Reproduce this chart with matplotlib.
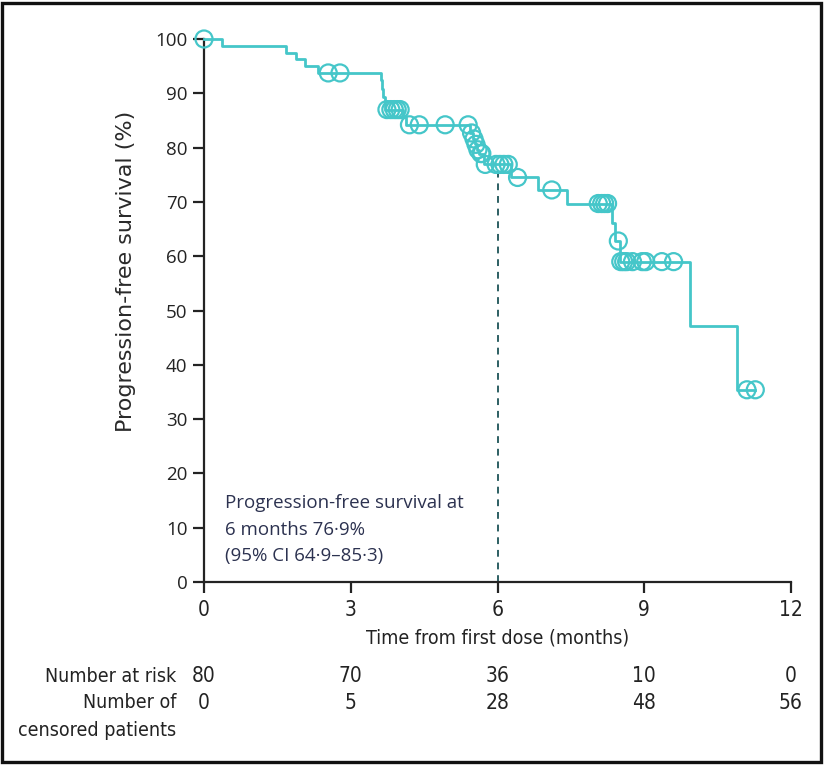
import matplotlib
matplotlib.use("Agg")
import matplotlib.pyplot as plt
import matplotlib.transforms as mtransforms
from matplotlib.patches import Rectangle

# Kaplan-Meier steps (time in months, PFS %)
step_t = [0, 0.37, 1.68, 1.88, 2.07, 2.34, 3.61, 3.63, 3.66, 3.69, 4.07, 4.12,
          5.44, 5.50, 5.54, 5.58, 5.62, 5.72, 6.27, 6.83, 7.42, 8.34, 8.40, 8.51,
          9.94, 10.90]
step_s = [100, 98.75, 97.5, 96.25, 95.0, 93.75, 92.4, 90.7, 89.3, 87.0, 85.6, 84.2,
          82.7, 81.6, 80.6, 79.6, 78.9, 76.9, 74.5, 72.2, 69.7, 66.2, 62.8, 59.0,
          47.1, 35.4]
end_t = 11.27

# censored observations
cens_t = [0, 2.54, 2.78, 3.74, 3.82, 3.89, 3.95, 4.01, 4.20, 4.40, 4.93, 5.40,
          5.47, 5.52, 5.56, 5.60, 5.66, 5.68, 5.75, 5.97, 6.05, 6.13, 6.22, 6.41,
          7.11, 8.06, 8.13, 8.19, 8.25, 8.47, 8.52, 8.58, 8.64, 8.76, 8.96, 9.03,
          9.36, 9.60, 11.10, 11.27]
cens_s = [100, 93.75, 93.75, 87.0, 87.0, 87.0, 87.0, 87.0, 84.2, 84.2, 84.2, 84.2,
          82.7, 81.6, 80.6, 79.6, 78.9, 78.9, 76.9, 76.9, 76.9, 76.9, 76.9, 74.5,
          72.2, 69.7, 69.7, 69.7, 69.7, 62.8, 59.0, 59.0, 59.0, 59.0, 59.0, 59.0,
          59.0, 59.0, 35.4, 35.4]

ticks_x = [0, 3, 6, 9, 12]
at_risk = [80, 70, 36, 10, 0]
censored = [0, 5, 28, 48, 56]

landmark_t = 6
landmark_s = 76.9
note = "Progression-free survival at\n6 months 76·9%\n(95% CI 64·9–85·3)"

teal = "#45c6c9"
ink = "#232323"
wide = ["Open Sans", "DejaVu Sans"]
narrow = dict(family="DejaVu Sans", stretch="condensed")

fig = plt.figure(figsize=(8.26, 7.66), dpi=100)
ax = fig.add_axes([204 / 826, 1 - 582 / 766, (791 - 204) / 826, (582 - 39) / 766])

xs = step_t + [end_t]
ys = step_s + [step_s[-1]]
ax.step(xs, ys, where="post", color=teal, lw=2.0, clip_on=False, zorder=3)
ax.scatter(cens_t, cens_s, s=150, facecolors="none", edgecolors=teal,
           linewidths=1.6, clip_on=False, zorder=4)

ax.plot([landmark_t, landmark_t], [0, landmark_s], color="#2d5f63",
        lw=1.4, ls=(0, (3.5, 3)), zorder=2)

ax.set_xlim(0, 12)
ax.set_ylim(0, 100)
ax.set_xticks(ticks_x)
ax.set_yticks(range(0, 101, 10))
for s in ["top", "right"]:
    ax.spines[s].set_visible(False)
for s in ["left", "bottom"]:
    ax.spines[s].set_linewidth(1.6)
    ax.spines[s].set_color(ink)
ax.tick_params(axis="both", direction="out", length=8, width=1.6, color=ink,
               labelcolor=ink)
ax.tick_params(axis="y", pad=4, labelsize=13.5)
ax.tick_params(axis="x", pad=5, labelsize=15)
for lab in ax.get_yticklabels():
    lab.set_family(wide)
for lab in ax.get_xticklabels():
    lab.set_family(narrow["family"])
    lab.set_stretch(narrow["stretch"])

ax.set_ylabel("Progression-free survival (%)", fontsize=16, family="DejaVu Sans",
              color="#2a2a2a")
ax.yaxis.set_label_coords((136 - 204) / 587, 1 - (271 - 39) / 543)
ax.set_xlabel("Time from first dose (months)", fontsize=14, color=ink,
              labelpad=6, **narrow)

ax.text(0.43, 16.2, note, fontsize=13.5, family=wide, color="#2c3250",
        va="top", ha="left", linespacing=1.62)

# number-at-risk table
tr = mtransforms.blended_transform_factory(ax.transData, fig.transFigure)
row1 = 1 - 676 / 766
row2 = 1 - 703 / 766
row3 = 1 - 730 / 766
lx = 176 / 826
fig.text(lx, row1, "Number at risk", ha="right", va="center", fontsize=14,
         color=ink, **narrow)
fig.text(lx, row2, "Number of", ha="right", va="center", fontsize=14,
         color=ink, **narrow)
fig.text(lx, row3, "censored patients", ha="right", va="center", fontsize=14,
         color=ink, **narrow)
for t, n, c in zip(ticks_x, at_risk, censored):
    ax.text(t, row1, str(n), transform=tr, ha="center", va="center",
            fontsize=15, color=ink, **narrow)
    ax.text(t, row2, str(c), transform=tr, ha="center", va="center",
            fontsize=15, color=ink, **narrow)

fig.patches.append(Rectangle((2 / 826, 4 / 766), 819 / 826, 759 / 766,
                             transform=fig.transFigure, fill=False,
                             edgecolor="#111111", lw=2.4))

fig.savefig("out.png", dpi=100)
